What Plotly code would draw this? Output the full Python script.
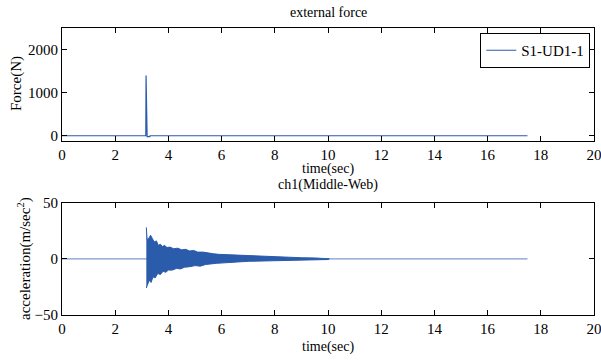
import plotly.graph_objects as go

# ---- data ----
force_t = [0.0, 3.15, 3.16, 3.18, 3.20, 3.30, 3.31, 17.5]
force_v = [0, 0, 1400, -20, -20, -20, 0, 0]

acc_flat_t = [0.0, 17.5]
acc_flat_v = [0, 0]

env_up_t = [3.17, 3.20, 3.28, 3.33, 3.40, 3.47, 3.55, 3.62, 3.70, 3.78, 3.85, 3.95,
            4.05, 4.20, 4.35, 4.50, 4.65, 4.80, 4.95, 5.10, 5.30, 5.50, 5.70, 5.90,
            6.10, 6.40, 6.70, 7.00, 7.40, 7.80, 8.20, 8.60, 9.00, 9.50, 10.0, 10.05]
env_up_v = [28, 17, 19, 21, 18, 15, 16, 12, 13, 11, 12, 10,
            10.5, 9, 9.5, 8, 8.5, 7, 7.5, 6, 6, 5, 4.5, 4,
            3.8, 3, 2.8, 2.3, 2, 1.6, 1.3, 1.1, 1, 0.8, 0.6, 0]

env_lo_t = [3.17, 3.20, 3.28, 3.35, 3.42, 3.50, 3.60, 3.70, 3.80, 3.90, 4.00, 4.15,
            4.30, 4.45, 4.60, 4.80, 5.00, 5.20, 5.40, 5.60, 5.80, 6.00, 6.30, 6.60,
            7.00, 7.40, 7.80, 8.20, 8.60, 9.00, 9.50, 10.0, 10.05]
env_lo_v = [-26, -24, -19, -21, -16, -17, -13, -14, -11, -12, -10, -10,
            -8.5, -9, -7.5, -7, -6, -6.5, -5, -4.5, -4, -3.8, -3, -2.8,
            -2.2, -2, -1.6, -1.3, -1.1, -1, -0.8, -0.6, 0]

x_ticks = [0, 2, 4, 6, 8, 10, 12, 14, 16, 18, 20]
force_ticks = [0, 1000, 2000]
acc_ticks = [-50, 0, 50]

BLUE = "#2b5bab"
FONT = "Liberation Serif"
FS = 15

fig = go.Figure()
fig.add_trace(go.Scatter(x=force_t, y=force_v, mode="lines", name="S1-UD1-1",
                         line=dict(color=BLUE, width=1.2), xaxis="x", yaxis="y"))
fig.add_trace(go.Scatter(x=acc_flat_t, y=acc_flat_v, mode="lines", showlegend=False,
                         line=dict(color="#7e9ad0", width=1.2), xaxis="x2", yaxis="y2"))
band_x = env_up_t + env_lo_t[::-1]
band_y = env_up_v + env_lo_v[::-1]
fig.add_trace(go.Scatter(x=band_x, y=band_y, mode="lines", fill="toself", showlegend=False,
                         fillcolor=BLUE, line=dict(color=BLUE, width=1),
                         xaxis="x2", yaxis="y2"))

ax_common = dict(showline=True, mirror="ticks", linecolor="black", linewidth=1,
                 ticks="inside", ticklen=5, tickcolor="black", showgrid=False,
                 zeroline=False, automargin=False, ticklabeloverflow="allow",
                 tickfont=dict(family=FONT, size=FS, color="black"))

H_TOP = 28
H_BOT = 45
L = 62
R = 7
PLOT_H = 360 - H_TOP - H_BOT

def py(pix):
    return (360 - H_BOT - pix) / PLOT_H

fig.update_layout(
    width=601, height=360,
    margin=dict(l=L, r=R, t=H_TOP, b=H_BOT, autoexpand=False),
    paper_bgcolor="white", plot_bgcolor="white",
    font=dict(family=FONT, size=FS, color="black"),
    xaxis=dict(domain=[0, 1], range=[0, 20], tickvals=x_ticks, anchor="y", **ax_common),
    yaxis=dict(domain=[py(140.7), 1], range=[-115, 2500], tickvals=force_ticks,
               anchor="x", **ax_common),
    xaxis2=dict(domain=[0, 1], range=[0, 20], tickvals=x_ticks, anchor="y2", **ax_common),
    yaxis2=dict(domain=[0, py(202.7)], range=[-50, 50], tickvals=acc_ticks,
                anchor="x2", **ax_common),
    legend=dict(x=0.993, y=py(33), xanchor="right", yanchor="top",
                bordercolor="black", borderwidth=1, bgcolor="white",
                font=dict(family=FONT, size=FS, color="black"),
                tracegroupgap=0, itemwidth=30),
    showlegend=True,
)

def ann(text, xpix, ypix, angle=0, size=FS):
    fig.add_annotation(text=text, xref="paper", yref="paper",
                       x=(xpix - L) / (601 - L - R), y=py(ypix),
                       xanchor="center", yanchor="middle", showarrow=False,
                       textangle=angle, font=dict(family=FONT, size=size, color="black"))

ann("external force", 328, 12, size=14)
ann("time(sec)", 328, 169, size=14)
ann("ch1(Middle-Web)", 328, 185, size=14)
ann("time(sec)", 328, 347, size=14)
ann("Force(N)", 17, 84, -90)
ann("acceleration(m/sec<sup>2</sup>)", 24, 259, -90)

fig.write_html("out.html", config={"displayModeBar": False},
               post_script="document.body.style.margin='0';document.body.style.overflow='hidden';")
